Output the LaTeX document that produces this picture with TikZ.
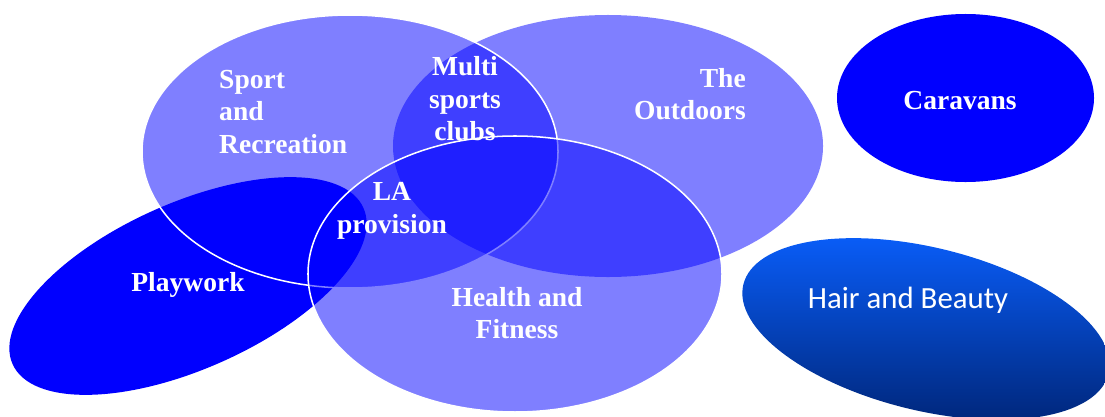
\documentclass[tikz,border=0pt]{standalone}
\usepackage{fontspec}
\setmainfont{Liberation Serif}
\newfontfamily\calibrifont{Carlito}
\usepackage{tikz}
\usetikzlibrary{shapes.geometric,positioning}
\definecolor{vennblue}{RGB}{0,0,255}
\definecolor{hairtop}{RGB}{10,96,255}
\definecolor{hairmid}{RGB}{8,84,240}
\definecolor{hairbottom}{RGB}{0,40,126}

\begin{document}
\begin{tikzpicture}[x=0.03cm, y=-0.03cm,
    venn/.style={ellipse, fill=vennblue, fill opacity=0.5, inner sep=0pt},
    rim/.style={draw=white, line width=1.3pt, draw opacity=1},
    solid blob/.style={ellipse, fill=vennblue, inner sep=0pt},
    lbl/.style={text=white, font=\fontsize{23.5}{27.7}\selectfont\bfseries, inner sep=0pt}
]
    \useasboundingbox (0,0) rectangle (1105,416);

    % loose ellipses underneath the overlap
    \node[solid blob, rotate=24, minimum width=11.52cm, minimum height=4.98cm] (playwork) at (188,286) {};

    % three overlapping areas
    \node[venn, minimum width=12.9cm, minimum height=7.86cm] (outdoors) at (608,146) {};
    \node[venn, rim, minimum width=12.48cm, minimum height=8.19cm] (sport) at (350,151.5) {};
    \node[venn, rim, minimum width=12.42cm, minimum height=8.28cm] (health) at (515,274) {};

    % separate ones on the right
    \node[solid blob, minimum width=7.71cm, minimum height=5.04cm] (caravans) at (965.5,98) {};
    \node[ellipse, inner sep=0pt, rotate=-13.7, minimum width=11.28cm, minimum height=4.89cm,
        top color=hairtop, middle color=hairmid, bottom color=hairbottom] (hair) at (926,329) {};

    % Labels
    \node[lbl, anchor=west, align=left] (sportlbl) at (219,112) {Sport\\and\\Recreation};
    \node[lbl, align=center] (multilbl) at (465,99) {Multi\\sports\\clubs};
    \node[lbl, anchor=east, align=right] (outdoorslbl) at (746,94) {The\\Outdoors};
    \node[lbl, align=center] (lalbl) at (392,211) {LA\\provision};
    \node[lbl] (playworklbl) at (188,285) {Playwork};
    \node[lbl, align=center] (healthlbl) at (517,313) {Health and\\Fitness};
    \node[lbl] (caravanslbl) at (960,101) {Caravans};
    \node[text=white, inner sep=0pt, font=\calibrifont\fontsize{26.3}{30}\selectfont] (hairlbl) at (908,300) {Hair and Beauty};
\end{tikzpicture}
\end{document}
